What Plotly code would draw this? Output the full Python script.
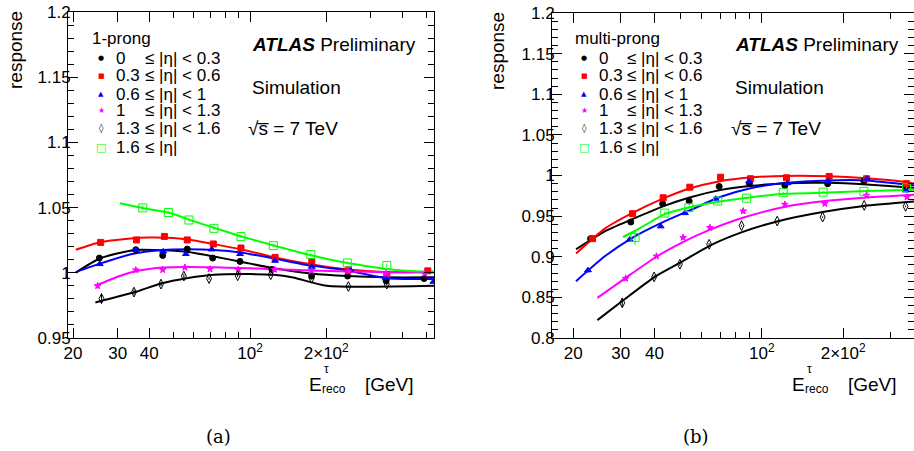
import plotly.graph_objects as go
import math

# ---------------- DATA: 1-prong (left) ----------------
L_eta0_x = [25.4, 35.4, 45.2, 56.5, 71.2, 91.3, 122, 175, 243, 345, 487]
L_eta0_y = [1.0113, 1.0177, 1.0133, 1.0182, 1.0113, 1.0087, 1.0025, 0.9975, 0.9975, 0.9938, 0.9956]
L_eta1_x = [25.7, 35.6, 45.9, 56.5, 71.6, 92.1, 125.6, 175.4, 244.6, 346.9, 503.7]
L_eta1_y = [1.0233, 1.0252, 1.0279, 1.0252, 1.0221, 1.0190, 1.0118, 1.0085, 1.0023, 0.9985, 1.0015]
L_eta2_x = [25.5, 35.4, 45.4, 55.8, 70.6, 91.3, 125.6, 175.4, 248.5, 343.7, 530]
L_eta2_y = [1.0067, 1.0175, 1.0164, 1.0144, 1.0179, 1.0144, 1.0092, 1.0046, 1.0023, 0.9959, 0.9931]
L_eta3_x = [25.0, 35.4, 45.2, 55.3, 69.5, 89.9, 125, 175, 245, 345, 490]
L_eta3_y = [0.990, 1.0021, 1.0023, 1.0041, 1.0028, 1.0023, 1.0025, 1.0015, 1.001, 0.9995, 0.9995]
L_eta4_x = [25.9, 34.8, 44.5, 54.8, 68.9, 89.4, 120.7, 175, 244.6, 346.9]
L_eta4_y = [0.9802, 0.9852, 0.9913, 0.9975, 0.9956, 0.9977, 0.9985, 0.9958, 0.9895, 0.9913]
L_eta5_x = [37.7, 47.6, 57.4, 72.0, 92.1, 123.6, 173.8, 242.4, 346.9]
L_eta5_y = [1.0498, 1.0462, 1.0405, 1.0341, 1.0279, 1.0208, 1.0141, 1.0075, 1.0056]

L_err0 = [0.0015, 0.001, 0.001, 0.001, 0.001, 0.001, 0.001, 0.001, 0.001, 0.001, 0.001]
L_err1 = [0.001, 0.001, 0.001, 0.001, 0.001, 0.001, 0.001, 0.001, 0.001, 0.001, 0.001]
L_err2 = [0.0015, 0.001, 0.001, 0.001, 0.001, 0.001, 0.001, 0.001, 0.001, 0.001, 0.001]
L_err3 = [0.002, 0.0015, 0.001, 0.001, 0.001, 0.001, 0.001, 0.001, 0.001, 0.001, 0.001]
L_err4 = [0.004, 0.002, 0.0015, 0.0015, 0.001, 0.001, 0.001, 0.001, 0.001, 0.001]
L_err5 = [0.0015, 0.001, 0.001, 0.001, 0.001, 0.001, 0.001, 0.001, 0.001]

# fitted curves (left)
L_fit0_x = [20.5, 25.5, 35, 45, 57, 72, 92, 124, 174, 243, 347, 535]
L_fit0_y = [1.0002, 1.011, 1.0175, 1.0172, 1.016, 1.0125, 1.0085, 1.0035, 0.9995, 0.9975, 0.9965, 0.9965]
L_fit1_x = [20.5, 25.5, 33, 40, 47, 57, 72, 92, 124, 174, 243, 347, 535]
L_fit1_y = [1.0177, 1.0235, 1.0262, 1.027, 1.0268, 1.0255, 1.022, 1.018, 1.012, 1.0065, 1.0025, 1.0005, 1.0005]
L_fit2_x = [20.5, 25.5, 35, 45, 57, 72, 92, 124, 174, 243, 347, 535]
L_fit2_y = [1.0005, 1.007, 1.0148, 1.0175, 1.018, 1.0175, 1.0155, 1.011, 1.0055, 1.0018, 0.9958, 0.9952]
L_fit3_x = [24.5, 30, 35, 45, 57, 72, 92, 124, 174, 243, 347, 535]
L_fit3_y = [0.990, 0.997, 1.001, 1.004, 1.0045, 1.0042, 1.0037, 1.0028, 1.0018, 1.001, 1.0005, 1.0005]
L_fit4_x = [24.5, 35.7, 44.5, 57, 72, 100, 124, 148, 201, 535]
L_fit4_y = [0.9772, 0.9856, 0.9918, 0.996, 0.9985, 0.999, 0.9985, 0.9964, 0.990, 0.990]
L_fit5_x = [30.6, 38, 48, 57, 72, 92, 124, 174, 243, 347, 450, 535]
L_fit5_y = [1.0533, 1.0495, 1.046, 1.041, 1.0345, 1.028, 1.021, 1.0135, 1.0075, 1.003, 1.0012, 1.001]

# ---------------- DATA: multi-prong (right) ----------------
R_eta0_x = [23.2, 32.7, 42.9, 53.8, 69.5, 90, 121.7, 175.2, 238.7, 341]
R_eta0_y = [0.9223, 0.9427, 0.9653, 0.9685, 0.9865, 0.990, 0.9877, 0.9898, 0.9930, 0.9865]
R_eta1_x = [23.6, 33.2, 43.1, 54.1, 70.3, 90.8, 123.4, 177.5, 244.3, 343]
R_eta1_y = [0.9223, 0.953, 0.9726, 0.9856, 0.9979, 0.996, 0.9972, 0.9988, 0.996, 0.990]
R_eta2_x = [22.7, 32.4, 42.2, 51.9, 67.4, 89.7, 124.5, 176, 245.5, 341.4]
R_eta2_y = [0.8834, 0.9211, 0.9374, 0.9537, 0.9714, 0.9930, 0.9906, 0.9930, 0.9960, 0.9816]
R_eta3_x = [31.3, 40.7, 51.1, 64.2, 85.3, 121.7, 171.1, 244, 345]
R_eta3_y = [0.8733, 0.9006, 0.9236, 0.9358, 0.9562, 0.9644, 0.9653, 0.9755, 0.9734]
R_eta4_x = [30.4, 39.9, 49.7, 63.8, 84.1, 114, 167.9, 239.3, 340.7]
R_eta4_y = [0.8433, 0.8752, 0.8908, 0.9153, 0.9383, 0.9439, 0.9488, 0.9632, 0.962]
R_eta5_x = [33.9, 43.7, 53.7, 68.6, 87.8, 120, 168.7, 238.7, 343.6]
R_eta5_y = [0.9236, 0.9537, 0.9604, 0.9685, 0.9721, 0.9788, 0.9795, 0.9804, 0.9849]

R_err0 = [0.002, 0.002, 0.0015, 0.0015, 0.001, 0.001, 0.001, 0.001, 0.001, 0.001]
R_err1 = [0.002, 0.002, 0.0015, 0.0015, 0.001, 0.001, 0.001, 0.001, 0.001, 0.001]
R_err2 = [0.003, 0.002, 0.002, 0.0015, 0.001, 0.001, 0.001, 0.001, 0.001, 0.001]
R_err3 = [0.003, 0.002, 0.002, 0.0015, 0.003, 0.002, 0.002, 0.001, 0.001]
R_err4 = [0.005, 0.002, 0.002, 0.0015, 0.001, 0.001, 0.001, 0.001, 0.001]
R_err5 = [0.009, 0.002, 0.0015, 0.0015, 0.001, 0.001, 0.001, 0.001, 0.001]

R_fit0_x = [20.5, 26.2, 33, 43, 54, 70, 90, 123, 177, 244, 340, 370]
R_fit0_y = [0.9092, 0.9313, 0.946, 0.962, 0.973, 0.982, 0.987, 0.9905, 0.991, 0.989, 0.9855, 0.985]
R_fit1_x = [20.5, 26.2, 33.2, 43, 54, 70, 90, 123, 177, 244, 340, 370]
R_fit1_y = [0.9039, 0.9346, 0.954, 0.9715, 0.984, 0.993, 0.9975, 0.9995, 0.999, 0.9965, 0.992, 0.990]
R_fit2_x = [20.5, 26.2, 33, 43, 54, 70, 90, 123, 177, 244, 340, 370]
R_fit2_y = [0.870, 0.9006, 0.923, 0.9425, 0.957, 0.9735, 0.984, 0.991, 0.994, 0.994, 0.989, 0.988]
R_fit3_x = [24.6, 31.3, 40.7, 51, 64, 85, 122, 171, 244, 370]
R_fit3_y = [0.8494, 0.874, 0.900, 0.918, 0.933, 0.948, 0.9615, 0.9685, 0.973, 0.9765]
R_fit4_x = [24.6, 30.4, 40, 50, 64, 84, 114, 168, 239, 370]
R_fit4_y = [0.822, 0.8455, 0.875, 0.893, 0.9135, 0.930, 0.9435, 0.955, 0.9625, 0.968]
R_fit5_x = [30.6, 34, 43.7, 54, 70, 90, 123, 177, 244, 370]
R_fit5_y = [0.9243, 0.932, 0.9525, 0.961, 0.968, 0.973, 0.9775, 0.979, 0.981, 0.9825]

# ---------------- TEXT ----------------
eta_low = ["0", "0.3", "0.6", "1", "1.3", "1.6"]
eta_rest = ["≤ |η| < 0.3", "≤ |η| < 0.6", "≤ |η| < 1", "≤ |η| < 1.3", "≤ |η| < 1.6", "≤ |η|"]
x_tickvals = [20, 30, 40, 100, 200]
x_ticktext = ["20", "30", "40", "10<sup>2</sup>", "2×10<sup>2</sup>"]
x_minor = [50, 60, 70, 80, 90, 300, 400, 500]
yL_ticks = [0.95, 1.0, 1.05, 1.1, 1.15, 1.2]
yL_text = ["0.95", "1", "1.05", "1.1", "1.15", "1.2"]
yR_ticks = [0.8, 0.85, 0.9, 0.95, 1.0, 1.05, 1.1, 1.15, 1.2]
yR_text = ["0.8", "0.85", "0.9", "0.95", "1", "1.05", "1.1", "1.15", "1.2"]

# ---------------- STYLE ----------------
W, H = 914, 451
FONT = "Liberation Sans, Arial, sans-serif"
colors = ["#000000", "#ff0000", "#0000ff", "#ff00ff", "#000000", "#00ff00"]
symbols = ["circle", "square", "triangle-up", "star", "diamond-tall-open", "square-open"]
msizes = [6, 6, 6, 5, 7, 8]
leg_glyph = ["●", "■", "▲", "★", "◊", "□"]
leg_gsize = [7, 7, 7, 8, 9, 11]


def PX(x):
    return x / W


def PY(y):
    return 1 - y / H


fig = go.Figure()

left_pts = [(L_eta0_x, L_eta0_y, L_err0), (L_eta1_x, L_eta1_y, L_err1), (L_eta2_x, L_eta2_y, L_err2),
            (L_eta3_x, L_eta3_y, L_err3), (L_eta4_x, L_eta4_y, L_err4), (L_eta5_x, L_eta5_y, L_err5)]
left_fit = [(L_fit0_x, L_fit0_y), (L_fit1_x, L_fit1_y), (L_fit2_x, L_fit2_y),
            (L_fit3_x, L_fit3_y), (L_fit4_x, L_fit4_y), (L_fit5_x, L_fit5_y)]
right_pts = [(R_eta0_x, R_eta0_y, R_err0), (R_eta1_x, R_eta1_y, R_err1), (R_eta2_x, R_eta2_y, R_err2),
             (R_eta3_x, R_eta3_y, R_err3), (R_eta4_x, R_eta4_y, R_err4), (R_eta5_x, R_eta5_y, R_err5)]
right_fit = [(R_fit0_x, R_fit0_y), (R_fit1_x, R_fit1_y), (R_fit2_x, R_fit2_y),
             (R_fit3_x, R_fit3_y), (R_fit4_x, R_fit4_y), (R_fit5_x, R_fit5_y)]

for panel, (pts, fits) in enumerate([(left_pts, left_fit), (right_pts, right_fit)]):
    xa = "x" if panel == 0 else "x2"
    ya = "y" if panel == 0 else "y2"
    for i, (fx, fy) in enumerate(fits):
        fig.add_trace(go.Scatter(x=fx, y=fy, mode="lines", xaxis=xa, yaxis=ya,
                                 line=dict(color=colors[i], width=2, shape="spline", smoothing=0.6),
                                 showlegend=False, hoverinfo="skip"))
    for i, (px_, py_, pe) in enumerate(pts):
        fig.add_trace(go.Scatter(x=px_, y=py_, mode="markers", xaxis=xa, yaxis=ya,
                                 error_y=dict(type="data", array=pe, color=colors[i], thickness=1, width=0),
                                 marker=dict(symbol=symbols[i], size=msizes[i], color=colors[i],
                                             line=dict(color=colors[i], width=1)),
                                 showlegend=False))

axis_common = dict(type="log", showgrid=False, zeroline=False, showline=True, linecolor="black",
                   linewidth=1, mirror="allticks", ticks="inside", ticklen=10, tickcolor="black",
                   tickmode="array", tickvals=x_tickvals, ticktext=x_ticktext, automargin=False,
                   tickfont=dict(family=FONT, size=17, color="black"),
                   minor=dict(tickmode="array", tickvals=x_minor, ticks="inside", ticklen=6,
                              tickcolor="black"))
yaxis_common = dict(showgrid=False, zeroline=False, showline=True, linecolor="black", linewidth=1,
                    mirror="allticks", ticks="inside", ticklen=10, tickcolor="black", automargin=False,
                    ticklabelstandoff=-7,
                    tickfont=dict(family=FONT, size=17, color="black"),
                    minor=dict(dtick=0.01, ticks="inside", ticklen=6, tickcolor="black"))

fig.update_layout(
    width=W, height=H, margin=dict(l=0, r=0, t=0, b=0, autoexpand=False),
    paper_bgcolor="white", plot_bgcolor="white", showlegend=False,
    xaxis=dict(domain=[PX(68), PX(434)], range=[math.log10(19.1), math.log10(533)], anchor="y",
               **axis_common),
    yaxis=dict(domain=[PY(338), PY(12)], range=[0.95, 1.2], anchor="x", tickmode="array",
               tickvals=yL_ticks, ticktext=yL_text, **yaxis_common),
    xaxis2=dict(domain=[PX(552), 1.0], range=[math.log10(16.7), math.log10(366)], anchor="y2",
                **axis_common),
    yaxis2=dict(domain=[PY(338), PY(13)], range=[0.8, 1.2], anchor="x2", tickmode="array",
                tickvals=yR_ticks, ticktext=yR_text, **yaxis_common),
)

ann = []


def text(x, y, s, size=17, xanchor="left", yanchor="middle", angle=0, family=FONT, color="black"):
    ann.append(dict(x=PX(x), y=PY(y), xref="paper", yref="paper", text=s, showarrow=False,
                    xanchor=xanchor, yanchor=yanchor, textangle=angle,
                    font=dict(family=family, size=size, color=color)))


row_y = [58, 76, 94, 111, 128, 147]
for (title, tx, mx, lx, rx, atl) in [("1-prong", 90, 101, 114, 143, 250),
                                     ("multi-prong", 573, 584, 597, 625, 733)]:
    text(tx, 39, title)
    for i in range(6):
        text(mx, row_y[i], leg_glyph[i], size=leg_gsize[i], xanchor="center", color=colors[i],
             family="DejaVu Sans")
        text(lx, row_y[i], eta_low[i])
        text(rx, row_y[i], eta_rest[i])
    text(atl, 45, "<b><i>ATLAS</i></b> Preliminary", size=19)
    text(atl, 88, "Simulation", size=19)
    text(atl - 4, 128, "√s̅ = 7 TeV", size=19)

# y titles
text(16, 50, "response", size=19, xanchor="center", angle=-90)
text(498, 51, "response", size=19, xanchor="center", angle=-90)

# x titles
for ex in [307, 790]:
    text(ex, 384, "E", size=19)
    text(ex + 15, 369, "τ", size=12)
    text(ex + 13, 389, "reco", size=12)
    text(ex + 56, 384, "[GeV]", size=19)

# captions
text(218, 436, "(a)", size=18, xanchor="center", family="DejaVu Serif, serif")
text(696, 436, "(b)", size=18, xanchor="center", family="DejaVu Serif, serif")

fig.update_layout(annotations=ann)
fig.write_html("out.html", config={"displayModeBar": False},
               post_script="document.body.style.margin='0px';")
